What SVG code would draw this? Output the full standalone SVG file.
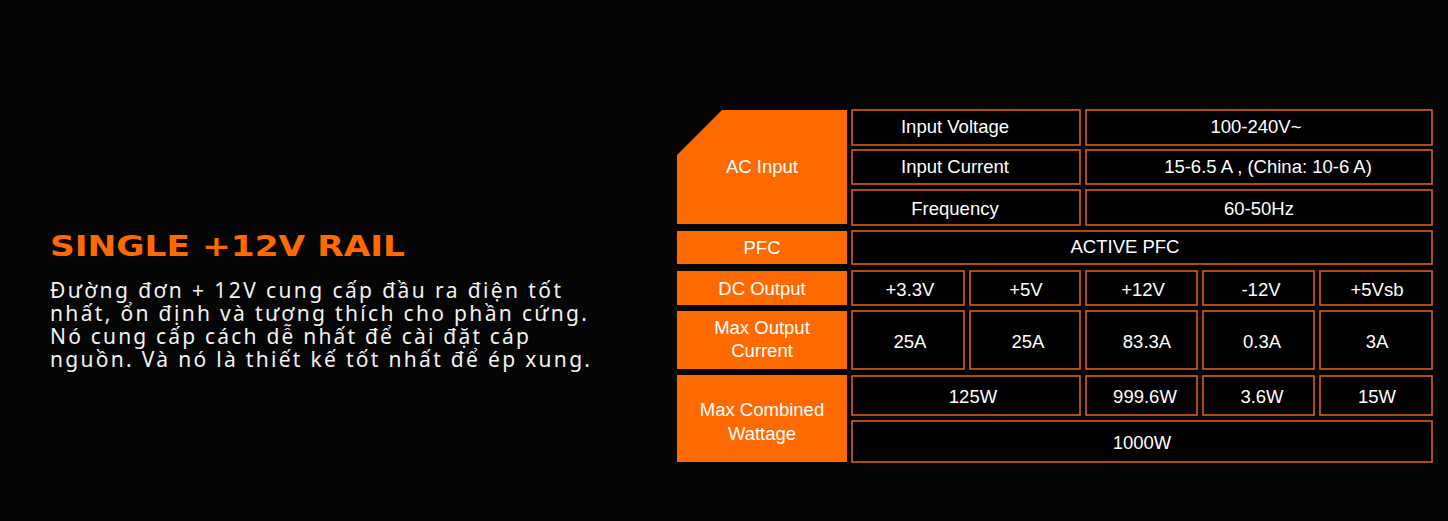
<svg xmlns="http://www.w3.org/2000/svg" width="1448" height="521" viewBox="0 0 1448 521">
<style>
.h{fill:#ff6a00}
.c{fill:#000;stroke:#d8601a;stroke-width:1.6}
.t{font-family:"Liberation Sans",Arial,sans-serif;font-size:18.5px;fill:#fff;text-anchor:middle}
.b{font-family:"Noto Sans","Open Sans",sans-serif;font-size:21px;fill:#f2f2f2;letter-spacing:1px}
</style>
<rect width="1448" height="521" fill="#050505"/>
<g id="intro">
<text x="50" y="256" font-family="'DejaVu Sans',sans-serif" font-weight="bold" font-size="29" fill="#ff6a00" textLength="355" lengthAdjust="spacingAndGlyphs">SINGLE +12V RAIL</text>
<text class="b" x="50" y="298" textLength="512">Đường đơn + 12V cung cấp đầu ra điện tốt</text>
<text class="b" x="50" y="321" textLength="538">nhất, ổn định và tương thích cho phần cứng.</text>
<text class="b" x="50" y="344" textLength="480">Nó cung cấp cách dễ nhất để cài đặt cáp</text>
<text class="b" x="50" y="367" textLength="541">nguồn. Và nó là thiết kế tốt nhất để ép xung.</text>
</g>
<g id="headers">
<path class="h" d="M722 110H847V224H677V155Z"/><text class="t" x="762" y="173">AC Input</text>
<rect class="h" x="677" y="231" width="170" height="33"/><text class="t" x="762" y="254">PFC</text>
<rect class="h" x="677" y="271" width="170" height="34"/><text class="t" x="762" y="295">DC Output</text>
<rect class="h" x="677" y="311" width="170" height="58"/><text class="t" x="762" y="334">Max Output</text><text class="t" x="762" y="357">Current</text>
<rect class="h" x="677" y="375" width="170" height="87"/><text class="t" x="762" y="416">Max Combined</text><text class="t" x="762" y="440">Wattage</text>
</g>
<g id="cells">
<rect class="c" x="852" y="110" width="228" height="35"/><text class="t" x="955" y="133">Input Voltage</text>
<rect class="c" x="1086" y="110" width="346" height="35"/><text class="t" x="1256" y="133">100-240V~</text>
<rect class="c" x="852" y="150" width="228" height="34"/><text class="t" x="955" y="173">Input Current</text>
<rect class="c" x="1086" y="150" width="346" height="34"/><text class="t" x="1268" y="173">15-6.5 A , (China: 10-6 A)</text>
<rect class="c" x="852" y="190" width="228" height="35"/><text class="t" x="955" y="215">Frequency</text>
<rect class="c" x="1086" y="190" width="346" height="35"/><text class="t" x="1259" y="215">60-50Hz</text>
<rect class="c" x="852" y="231" width="580" height="33"/><text class="t" x="1125" y="253">ACTIVE PFC</text>
<rect class="c" x="852" y="271" width="112" height="34"/><text class="t" x="910" y="296">+3.3V</text>
<rect class="c" x="970" y="271" width="110" height="34"/><text class="t" x="1026" y="296">+5V</text>
<rect class="c" x="1086" y="271" width="111" height="34"/><text class="t" x="1143" y="296">+12V</text>
<rect class="c" x="1203" y="271" width="111" height="34"/><text class="t" x="1261" y="296">-12V</text>
<rect class="c" x="1320" y="271" width="112" height="34"/><text class="t" x="1377" y="296">+5Vsb</text>
<rect class="c" x="852" y="311" width="112" height="58"/><text class="t" x="910" y="348">25A</text>
<rect class="c" x="970" y="311" width="110" height="58"/><text class="t" x="1028" y="348">25A</text>
<rect class="c" x="1086" y="311" width="111" height="58"/><text class="t" x="1147" y="348">83.3A</text>
<rect class="c" x="1203" y="311" width="111" height="58"/><text class="t" x="1262" y="348">0.3A</text>
<rect class="c" x="1320" y="311" width="112" height="58"/><text class="t" x="1377" y="348">3A</text>
<rect class="c" x="852" y="376" width="228" height="39"/><text class="t" x="973" y="403">125W</text>
<rect class="c" x="1086" y="376" width="111" height="39"/><text class="t" x="1145" y="403">999.6W</text>
<rect class="c" x="1203" y="376" width="111" height="39"/><text class="t" x="1262" y="403">3.6W</text>
<rect class="c" x="1320" y="376" width="112" height="39"/><text class="t" x="1377" y="403">15W</text>
<rect class="c" x="852" y="421" width="580" height="41"/><text class="t" x="1142" y="449">1000W</text>
</g>
</svg>
